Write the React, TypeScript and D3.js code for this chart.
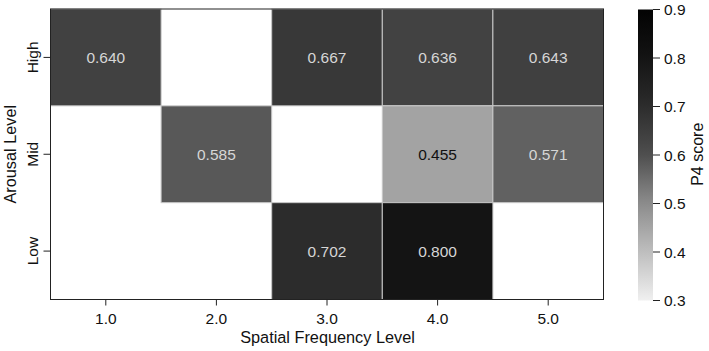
import React from 'react';
import * as d3 from 'd3';

const freqLevels = ['1.0', '2.0', '3.0', '4.0', '5.0'];
const arousalLevels = ['High', 'Mid', 'Low'];
// null = no data (drawn white)
const highScores = [0.64, null, 0.667, 0.636, 0.643];
const midScores = [null, 0.585, null, 0.455, 0.571];
const lowScores = [null, null, 0.702, 0.8, null];
const colorbarTicks = [0.3, 0.4, 0.5, 0.6, 0.7, 0.8, 0.9];

const W = 709;
const H = 351;
const FONT = 'Liberation Sans, Arial, Helvetica, sans-serif';

export default function App() {
  const left = 50.5;
  const top = 9;
  const right = 603.5;
  const bottom = 299.5;

  const x = d3.scaleBand().domain(freqLevels).range([left, right]);
  const y = d3.scaleBand().domain(arousalLevels).range([top, bottom]);

  // grey ramp
  const color = d3
    .scaleLinear<string>()
    .domain([0.3, 0.4, 0.5, 0.6, 0.7, 0.8, 0.9])
    .range(['#f0f0f0', '#bebebe', '#8c8c8c', '#4f4f4f', '#2c2c2c', '#141414', '#030303'])
    .clamp(true);

  const rows = [highScores, midScores, lowScores];
  const cells: { row: string; col: string; v: number }[] = [];
  rows.forEach((vals, i) => {
    vals.forEach((v, j) => {
      if (v != null) cells.push({ row: arousalLevels[i], col: freqLevels[j], v });
    });
  });

  // colour bar
  const cbX = 638;
  const cbW = 15;
  const cbY = d3.scaleLinear().domain([0.3, 0.9]).range([300.5, 9.5]);
  const stops = d3.range(0, 1.0001, 0.05);

  return (
    <svg width={W} height={H} style={{ position: 'absolute', left: 0, top: 0, background: '#fff' }}>
      <defs>
        <linearGradient id="cb" x1="0" y1="1" x2="0" y2="0">
          {stops.map((t) => (
            <stop key={t} offset={t} stopColor={color(0.3 + t * 0.6)} />
          ))}
        </linearGradient>
      </defs>

      {cells.map((c) => (
        <g key={c.row + c.col}>
          <rect
            x={x(c.col)}
            y={y(c.row)}
            width={x.bandwidth()}
            height={y.bandwidth()}
            fill={color(c.v)}
            stroke="#c8c8c8"
            strokeWidth={1}
          />
          <text
            x={(x(c.col) as number) + x.bandwidth() / 2}
            y={(y(c.row) as number) + y.bandwidth() / 2}
            textAnchor="middle"
            dominantBaseline="central"
            fontFamily={FONT}
            fontSize={15.5}
            fill={c.v < 0.5 ? '#111' : '#d6d6d6'}
          >
            {c.v.toFixed(3)}
          </text>
        </g>
      ))}

      {/* frame */}
      <rect x={left} y={top} width={right - left} height={bottom - top} fill="none" stroke="#222" strokeWidth={1} />

      {/* x ticks */}
      {freqLevels.map((f) => {
        const cx = (x(f) as number) + x.bandwidth() / 2;
        return (
          <g key={f}>
            <line x1={cx} x2={cx} y1={bottom} y2={bottom + 6} stroke="#222" />
            <text x={cx} y={324} textAnchor="middle" fontFamily={FONT} fontSize={15.5} fill="#111">
              {f}
            </text>
          </g>
        );
      })}
      <text x={(left + right) / 2 + 0.5} y={343} textAnchor="middle" fontFamily={FONT} fontSize={16.3} fill="#111">
        Spatial Frequency Level
      </text>

      {/* y ticks */}
      {arousalLevels.map((a) => {
        const cy = (y(a) as number) + y.bandwidth() / 2;
        return (
          <g key={a}>
            <line x1={left - 7} x2={left} y1={cy} y2={cy} stroke="#222" />
            <text
              transform={`translate(38,${cy}) rotate(-90)`}
              textAnchor="middle"
              fontFamily={FONT}
              fontSize={15.5}
              fill="#111"
            >
              {a}
            </text>
          </g>
        );
      })}
      <text
        transform={`translate(16,${(top + bottom) / 2}) rotate(-90)`}
        textAnchor="middle"
        fontFamily={FONT}
        fontSize={16.3}
        fill="#111"
      >
        Arousal Level
      </text>

      {/* colour bar */}
      <rect x={cbX} y={cbY(0.9)} width={cbW} height={cbY(0.3) - cbY(0.9)} fill="url(#cb)" />
      {colorbarTicks.map((t) => (
        <g key={t}>
          <line x1={cbX + cbW} x2={cbX + cbW + 7} y1={cbY(t)} y2={cbY(t)} stroke="#222" />
          <text
            x={cbX + cbW + 11}
            y={cbY(t)}
            dominantBaseline="central"
            fontFamily={FONT}
            fontSize={15.5}
            fill="#111"
          >
            {t.toFixed(1)}
          </text>
        </g>
      ))}
      <text
        transform={`translate(703,${(top + bottom) / 2}) rotate(-90)`}
        textAnchor="middle"
        fontFamily={FONT}
        fontSize={16}
        fill="#111"
      >
        P4 score
      </text>
    </svg>
  );
}
